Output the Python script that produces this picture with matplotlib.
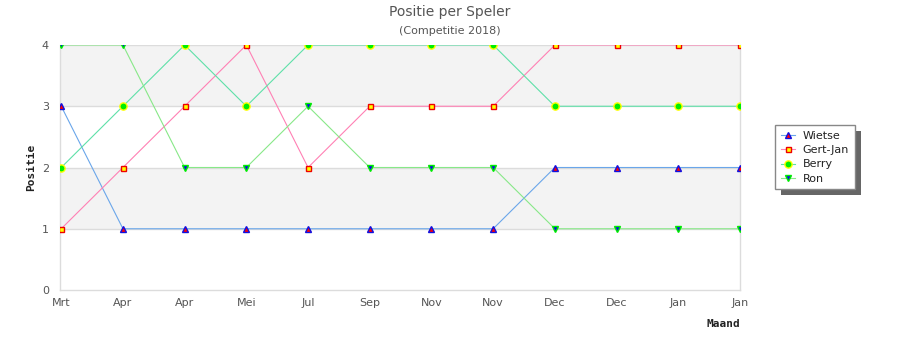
import matplotlib
matplotlib.use("Agg")
import matplotlib.pyplot as plt
from matplotlib.patches import Rectangle

# positions per month in the 2018 competition
months = ["Mrt", "Apr", "Apr", "Mei", "Jul", "Sep", "Nov", "Nov", "Dec", "Dec", "Jan", "Jan"]
wietse = [3, 1, 1, 1, 1, 1, 1, 1, 2, 2, 2, 2]
gert_jan = [1, 2, 3, 4, 2, 3, 3, 3, 4, 4, 4, 4]
berry = [2, 3, 4, 3, 4, 4, 4, 4, 3, 3, 3, 3]
ron = [4, 4, 2, 2, 3, 2, 2, 2, 1, 1, 1, 1]
y_ticks = [0, 1, 2, 3, 4]

GRID = "#dcdcdc"
BAND = "#f3f3f3"
TXT = "#555555"

fig = plt.figure(figsize=(9, 3.5), dpi=100)
ax = fig.add_axes([60 / 900, 1 - 290 / 350, 680 / 900, 245 / 350])

x = list(range(len(months)))

# alternating background bands
ax.axhspan(1, 2, color=BAND, zorder=0, lw=0)
ax.axhspan(3, 4, color=BAND, zorder=0, lw=0)
for yv in y_ticks[1:]:
    ax.axhline(yv, color=GRID, lw=1, zorder=1)

series = [
    ("Wietse", wietse, "#6aa6ea", dict(marker="^", mfc="#ff0000", mec="#1010e0", ms=5)),
    ("Gert-Jan", gert_jan, "#ff80b4", dict(marker="s", mfc="#ffff00", mec="#ee0000", ms=3.6)),
    ("Berry", berry, "#5ee0a8", dict(marker="o", mfc="#00ee00", mec="#ffff00", ms=5.2)),
    ("Ron", ron, "#88e888", dict(marker="v", mfc="#1010e0", mec="#00ee00", ms=5)),
]
for name, ys, col, mk in series:
    ax.plot(x, ys, color=col, lw=0.8, zorder=3, label=name, mew=1.0, **mk)

ax.set_xlim(-0.02, 11)
ax.set_ylim(0, 4)
ax.set_yticks(y_ticks)
ax.set_xticks(x)
ax.set_xticklabels(months)
ax.tick_params(length=0, colors=TXT, labelsize=8, pad=6)
ax.tick_params(axis="y", pad=8)
ax.spines["top"].set_visible(False)
for s in ("left", "bottom", "right"):
    ax.spines[s].set_color(GRID)
    ax.spines[s].set_linewidth(1)

ax.set_ylabel("Positie", family="DejaVu Sans Mono", fontweight="bold",
              fontsize=8, color="#222222", labelpad=4)
fig.text(740 / 900, 1 - 324 / 350, "Maand", ha="right", va="center",
         family="DejaVu Sans Mono", fontweight="bold", fontsize=8, color="#222222")

fig.text(0.5, 1 - 12 / 350, "Positie per Speler", ha="center", va="center",
         fontsize=10, color=TXT)
fig.text(0.5, 1 - 31 / 350, "(Competitie 2018)", ha="center", va="center",
         fontsize=8, color=TXT)

leg = fig.legend(loc="upper left", bbox_to_anchor=(775 / 900, 1 - 125 / 350),
                 borderaxespad=0, fancybox=False, framealpha=1, edgecolor="#888888",
                 fontsize=8, handlelength=1.3, handletextpad=0.7,
                 labelspacing=0.4, borderpad=0.5, markerscale=1.0)
leg.get_frame().set_linewidth(1)
for t in leg.get_texts():
    t.set_color("#222222")

# drop shadow behind the legend box
fig.canvas.draw()
bb = leg.get_window_extent()
shadow = Rectangle((bb.x0 + 6, bb.y0 - 6), bb.width, bb.height,
                   transform=None, facecolor="#666666", edgecolor="none", zorder=0)
fig.patches.append(shadow)
leg.set_zorder(5)

fig.savefig("out.png", dpi=100)
